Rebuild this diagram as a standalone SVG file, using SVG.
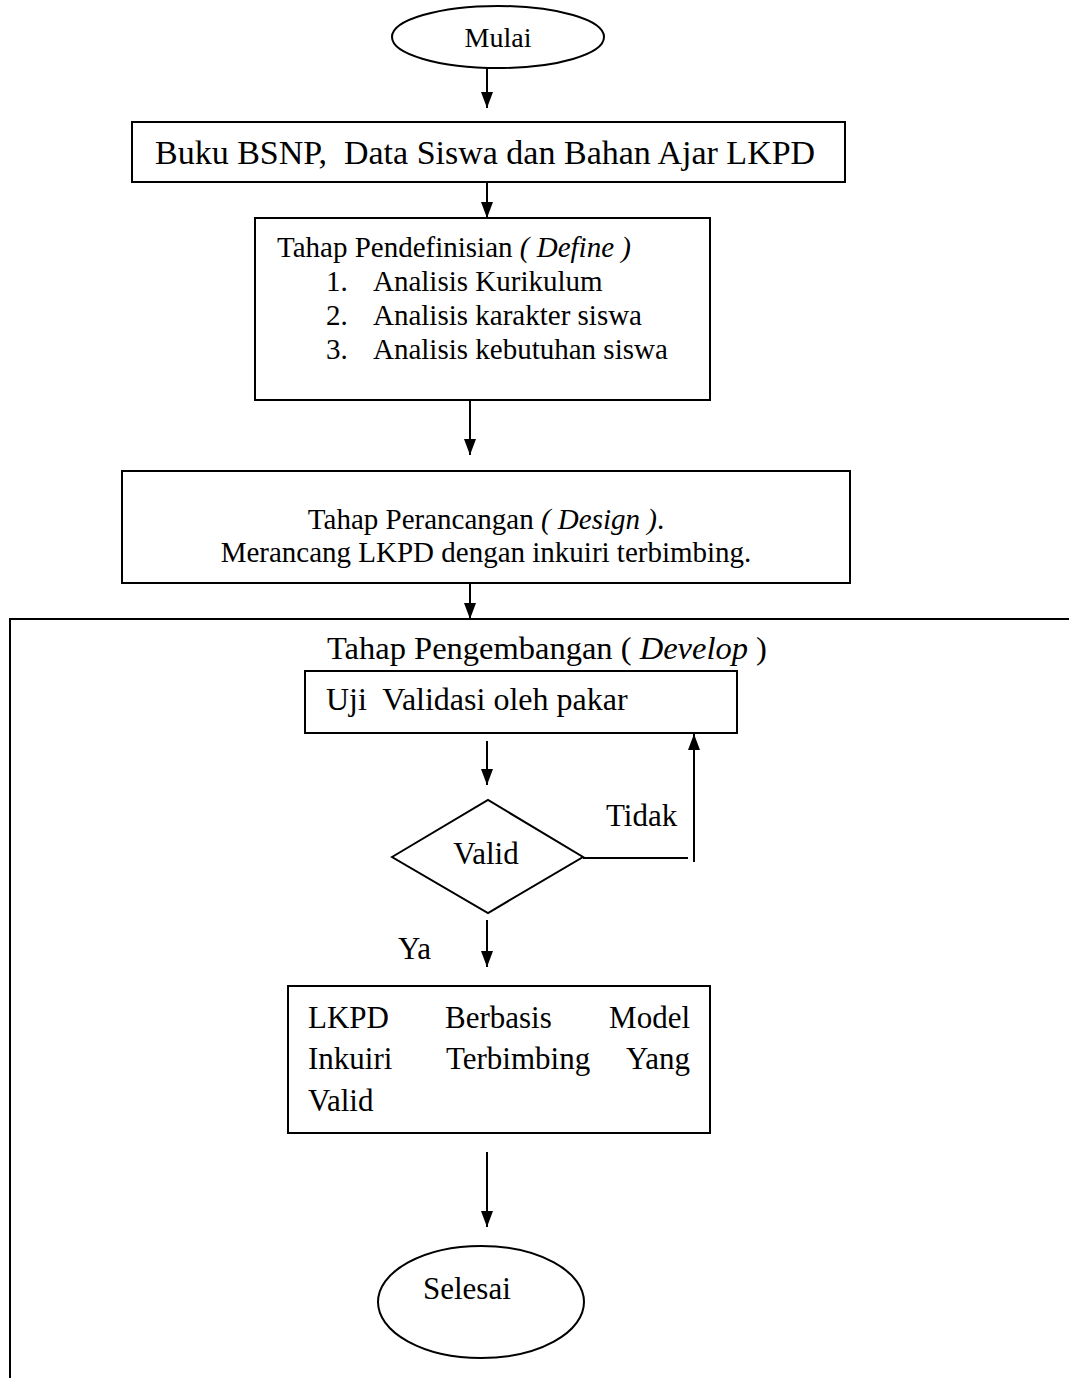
<svg xmlns="http://www.w3.org/2000/svg" width="1069" height="1378" viewBox="0 0 1069 1378">
<style>
.shape{fill:#fff;stroke:#000;stroke-width:2}
.t{font-family:"Liberation Serif","Times New Roman",serif;fill:#000}
.c{fill:none;stroke:#000;stroke-width:2}
</style>
<defs>
<marker id="ah" viewBox="0 0 16 12" refX="16" refY="6" markerWidth="16" markerHeight="12" markerUnits="userSpaceOnUse" orient="auto">
<path d="M0,0 L16,6 L0,12 z" fill="#000"/>
</marker>
</defs>
<rect width="1069" height="1378" fill="#fff"/>
<g id="develop-container">
<rect class="shape" x="10" y="619" width="1080" height="800"/>
<text class="t" x="327" y="659" font-size="32.5">Tahap Pengembangan ( <tspan font-style="italic">Develop</tspan> )</text>
</g>
<g id="mulai">
<ellipse class="shape" cx="498" cy="37" rx="106" ry="31"/>
<text class="t" x="498" y="47" font-size="28" text-anchor="middle">Mulai</text>
</g>
<g id="input">
<rect class="shape" x="132" y="122" width="713" height="60"/>
<text class="t" x="155" y="164" font-size="34" xml:space="preserve">Buku BSNP,  Data Siswa dan Bahan Ajar LKPD</text>
</g>
<g id="define">
<rect class="shape" x="255" y="218" width="455" height="182"/>
<text class="t" x="277" y="257" font-size="29">Tahap Pendefinisian <tspan font-style="italic">( Define )</tspan></text>
<text class="t" x="326" y="291" font-size="29">1.</text>
<text class="t" x="373" y="291" font-size="29">Analisis Kurikulum</text>
<text class="t" x="326" y="325" font-size="29">2.</text>
<text class="t" x="373" y="325" font-size="29">Analisis karakter siswa</text>
<text class="t" x="326" y="359" font-size="29">3.</text>
<text class="t" x="373" y="359" font-size="29">Analisis kebutuhan siswa</text>
</g>
<g id="design">
<rect class="shape" x="122" y="471" width="728" height="112"/>
<text class="t" x="486" y="529" font-size="29" text-anchor="middle">Tahap Perancangan <tspan font-style="italic">( Design )</tspan>.</text>
<text class="t" x="486" y="562" font-size="29" text-anchor="middle">Merancang LKPD dengan inkuiri terbimbing.</text>
</g>
<g id="validasi">
<rect class="shape" x="305" y="671" width="432" height="62"/>
<text class="t" x="326" y="710" font-size="32" xml:space="preserve">Uji  Validasi oleh pakar</text>
</g>
<g id="valid">
<polygon class="shape" points="392,857 488,800 583,857 488,913"/>
<text class="t" x="486" y="864" font-size="31" text-anchor="middle">Valid</text>
</g>
<g id="hasil">
<rect class="shape" x="288" y="986" width="422" height="147"/>
<text class="t" x="308" y="1028" font-size="31">LKPD</text>
<text class="t" x="445" y="1028" font-size="31">Berbasis</text>
<text class="t" x="690" y="1028" font-size="31" text-anchor="end">Model</text>
<text class="t" x="308" y="1069" font-size="31">Inkuiri</text>
<text class="t" x="446" y="1069" font-size="31">Terbimbing</text>
<text class="t" x="690" y="1069" font-size="31" text-anchor="end">Yang</text>
<text class="t" x="308" y="1111" font-size="31">Valid</text>
</g>
<g id="selesai">
<ellipse class="shape" cx="481" cy="1302" rx="103" ry="56"/>
<text class="t" x="423" y="1299" font-size="31">Selesai</text>
</g>
<g id="connectors">
<line class="c" x1="487" y1="68" x2="487" y2="108" marker-end="url(#ah)"/>
<line class="c" x1="487" y1="182" x2="487" y2="218" marker-end="url(#ah)"/>
<line class="c" x1="470" y1="400" x2="470" y2="455" marker-end="url(#ah)"/>
<line class="c" x1="470" y1="583" x2="470" y2="619" marker-end="url(#ah)"/>
<line class="c" x1="487" y1="741" x2="487" y2="785" marker-end="url(#ah)"/>
<polyline class="c" points="583,858 688,858"/>
<line class="c" x1="694" y1="862" x2="694" y2="734" marker-end="url(#ah)"/>
<text class="t" x="606" y="826" font-size="31">Tidak</text>
<line class="c" x1="487" y1="920" x2="487" y2="967" marker-end="url(#ah)"/>
<text class="t" x="398" y="959" font-size="31">Ya</text>
<line class="c" x1="487" y1="1152" x2="487" y2="1227" marker-end="url(#ah)"/>
</g>
</svg>
